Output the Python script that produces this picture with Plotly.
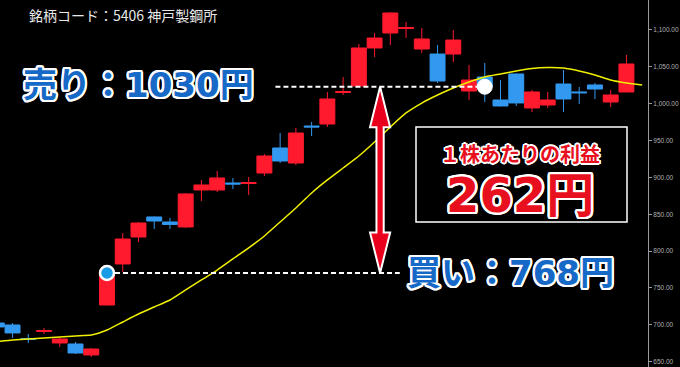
import plotly.graph_objects as go

# ---------------- data ----------------
idx = list(range(41))
opens = [702.4, 699.7, 681.4, 690.9, 675.3, 673.9, 659.0, 726.8, 782.5, 819.1, 846.3, 839.5, 832.7, 882.9,
         882.9, 892.4, 891.7, 905.9, 939.9, 919.5, 969.7, 972.4, 1015.2, 1024.0, 1075.6, 1095.9, 1102.0,
         1074.2, 1067.4, 1067.4, 1017.2, 1036.2, 1005.0, 1040.3, 994.2, 998.2, 1026.7, 1015.9, 1025.4,
         1002.3, 1015.9]
highs = [703.8, 702.4, 687.5, 695.6, 683.4, 676.6, 668.5, 771.6, 824.5, 839.5, 846.9, 844.9, 878.8, 896.5,
         908.7, 899.2, 900.5, 931.7, 960.2, 967.0, 975.2, 1015.9, 1036.2, 1081.0, 1095.9, 1124.4, 1110.8,
         1102.7, 1079.6, 1100.0, 1052.5, 1055.2, 1032.1, 1041.0, 1018.6, 1015.9, 1045.7, 1022.6, 1028.1,
         1018.6, 1066.1]
lows = [694.3, 682.1, 675.3, 687.5, 669.9, 660.4, 656.3, 726.8, 771.6, 812.3, 830.0, 830.0, 831.3, 868.0,
        880.2, 884.2, 876.1, 901.9, 919.5, 916.8, 956.2, 968.4, 1011.8, 1022.6, 1063.4, 1079.6, 1089.1,
        1068.8, 1028.1, 1056.6, 1005.0, 1002.3, 996.2, 996.9, 988.7, 994.2, 988.7, 999.6, 1006.4, 995.5,
        1015.9]
closes = [697.0, 688.9, 680.0, 692.2, 680.7, 661.7, 667.1, 770.3, 816.4, 838.1, 840.8, 836.1, 877.5, 889.7,
          899.2, 891.0, 893.1, 929.0, 922.2, 960.2, 968.4, 1006.4, 1016.5, 1075.6, 1089.1, 1123.1, 1103.4,
          1087.8, 1030.8, 1086.4, 1032.1, 1023.0, 996.9, 1001.0, 1015.9, 1005.0, 1006.4, 1014.8, 1019.9,
          1011.8, 1053.9]
ma_idx = list(range(42))
ma = [677.3, 679.3, 680.7, 682.1, 683.4, 684.8, 686.1, 692.9, 703.8, 714.6, 724.1, 733.6, 747.2, 760.8,
      774.3, 789.3, 804.2, 820.5, 839.5, 858.5, 878.8, 896.5, 912.7, 929.0, 948.0, 968.4, 987.4, 1000.9,
      1011.8, 1021.3, 1029.4, 1036.2, 1040.3, 1044.4, 1047.8, 1049.1, 1048.4, 1044.4, 1038.9, 1032.1,
      1028.1, 1025.4]
tick_vals = [650, 700, 750, 800, 850, 900, 950, 1000, 1050, 1100]

buy_i, sell_i = 7, 31
buy_line_start, buy_line_end = 7, 25.6
sell_line_start, sell_line_end = 17.7, 31
arrow_x = 24.35

title_text = "銘柄コード：5406 神戸製鋼所"
sell_text = "売り：1030円"
buy_text = "買い：768円"
profit_label = "１株あたりの利益"
profit_text = "262円"

RED = "#ff1a2e"
BLUE = "#3399f0"
TXT_BLUE = "#1669c6"
TXT_RED = "#e8101e"


def outline(w, c="#ffffff"):
    import math
    parts = []
    for k in range(16):
        a = 2 * math.pi * k / 16
        parts.append(f"{w*math.cos(a):.2f}px {w*math.sin(a):.2f}px 0 {c}")
    return ", ".join(parts)


fig = go.Figure()

fig.add_trace(go.Candlestick(
    x=idx, open=opens, high=highs, low=lows, close=closes,
    increasing=dict(line=dict(color=RED, width=1), fillcolor=RED),
    decreasing=dict(line=dict(color=BLUE, width=1), fillcolor=BLUE),
    whiskerwidth=0, hoverinfo="skip", showlegend=False,
))

fig.add_trace(go.Scatter(
    x=ma_idx, y=ma, mode="lines", line=dict(color="#f0f000", width=1.5, shape="spline", smoothing=0.5),
    hoverinfo="skip", showlegend=False,
))

buy_p = closes[buy_i]
sell_p = closes[sell_i]

# dashed price lines
fig.add_trace(go.Scatter(x=[buy_line_start, buy_line_end], y=[buy_p, buy_p], mode="lines",
                         line=dict(color="white", width=2, dash="5px,3px"), hoverinfo="skip", showlegend=False))
fig.add_trace(go.Scatter(x=[sell_line_start, sell_line_end], y=[sell_p, sell_p], mode="lines",
                         line=dict(color="white", width=2, dash="5px,3px"), hoverinfo="skip", showlegend=False))

# double arrow
hw_s, hw_h, hl = 0.23, 0.64, 55.0
top, bot, xc = sell_p, buy_p, arrow_x
path = (f"M {xc},{top} L {xc+hw_h},{top-hl} L {xc+hw_s},{top-hl} L {xc+hw_s},{bot+hl} "
        f"L {xc+hw_h},{bot+hl} L {xc},{bot} L {xc-hw_h},{bot+hl} L {xc-hw_s},{bot+hl} "
        f"L {xc-hw_s},{top-hl} L {xc-hw_h},{top-hl} Z")
fig.add_shape(type="path", path=path, xref="x", yref="y", fillcolor="#e8001c",
              line=dict(color="white", width=2), layer="above")

# dots
fig.add_trace(go.Scatter(x=[buy_i], y=[buy_p], mode="markers",
                         marker=dict(size=14, color="#1a9be6", line=dict(color="white", width=2.5)),
                         hoverinfo="skip", showlegend=False))
fig.add_trace(go.Scatter(x=[sell_i], y=[sell_p], mode="markers",
                         marker=dict(size=15, color="white", line=dict(color="white", width=1)),
                         hoverinfo="skip", showlegend=False))

PW, PH = 648.0, 367.0
def px(xp):
    return xp / PW
def py(yp):
    return 1 - yp / PH

# profit box
fig.add_shape(type="rect", xref="paper", yref="paper", x0=px(416), x1=px(627), y0=py(222), y1=py(127),
              fillcolor="black", line=dict(color="white", width=1.5), layer="above")

CJK = "Noto Sans CJK JP"
BIG = "DejaVu Sans, Noto Sans CJK JP"
fig.add_annotation(text=title_text, xref="paper", yref="paper", x=px(27), y=py(15), xanchor="left",
                   yanchor="middle", showarrow=False, font=dict(family=CJK, size=14, color="#e8e8e8"))
fig.add_annotation(text=sell_text, xref="paper", yref="paper", x=px(138), y=py(85), xanchor="center",
                   yanchor="middle", showarrow=False,
                   font=dict(family=BIG, size=34, color=TXT_BLUE, weight="bold", shadow=outline(2.2)))
fig.add_annotation(text=buy_text, xref="paper", yref="paper", x=px(510), y=py(273), xanchor="center",
                   yanchor="middle", showarrow=False,
                   font=dict(family=BIG, size=34, color=TXT_BLUE, weight="bold", shadow=outline(2.2)))
fig.add_annotation(text=profit_label, xref="paper", yref="paper", x=px(520), y=py(153), xanchor="center",
                   yanchor="middle", showarrow=False,
                   font=dict(family=CJK, size=20, color=TXT_RED, weight="bold", shadow=outline(1.6)))
fig.add_annotation(text=profit_text, xref="paper", yref="paper", x=px(520), y=py(195), xanchor="center",
                   yanchor="middle", showarrow=False,
                   font=dict(family=BIG, size=48, color=TXT_RED, weight="bold", shadow=outline(2.4)))

fig.update_layout(
    width=680, height=367,
    margin=dict(l=0, r=32, t=0, b=0),
    paper_bgcolor="black", plot_bgcolor="black",
    boxgap=0.05, boxgroupgap=0,
    showlegend=False,
    xaxis=dict(range=[0.203, 41.37], visible=False, rangeslider=dict(visible=False), fixedrange=True),
    yaxis=dict(range=[642.7, 1140.7], side="right", showgrid=False, zeroline=False,
               showline=True, linecolor="#9a9a9a", linewidth=1,
               ticks="outside", ticklen=3, tickcolor="#9a9a9a",
               tickvals=tick_vals, tickformat=",.2f",
               tickfont=dict(family="Liberation Sans", size=6.5, color="#b0b0b0"), fixedrange=True),
)

fig.write_html("out.html", config={"displayModeBar": False})
